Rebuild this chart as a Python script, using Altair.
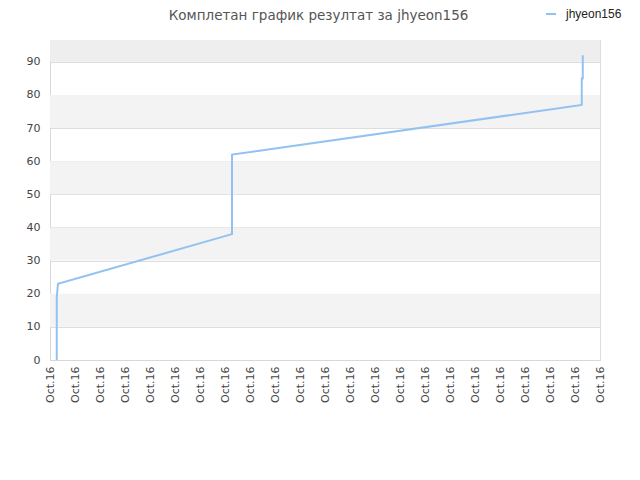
import altair as alt
import pandas as pd

# Data (x in tick-index units; 23 ticks all labelled "Oct.16")
x_vals = [0.27, 0.27, 0.32, 7.28, 7.28, 21.27, 21.27, 21.31, 21.31]
y_vals = [0, 19, 23, 38, 62, 77, 85, 85, 92]
series = "jhyeon156"
tick_positions = list(range(23))
tick_label = "Oct.16"
y_ticks = [0, 10, 20, 30, 40, 50, 60, 70, 80, 90]
band_lo = [10, 30, 50, 70, 90]
band_hi = [20, 40, 60, 80, 96.6]
band_col = ["#f3f3f3", "#f3f3f3", "#f3f3f3", "#f3f3f3", "#eeeeee"]
title_text = "Комплетан график резултат за jhyeon156"

line_df = pd.DataFrame({"x": x_vals, "y": y_vals, "s": [series] * len(x_vals)})
band_df = pd.DataFrame({"lo": band_lo, "hi": band_hi, "c": band_col})

W, H = 550, 320
xscale = alt.Scale(domain=[0, 22], nice=False, zero=False)
yscale = alt.Scale(domain=[0, 96.6], nice=False, zero=True)

yaxis = alt.Axis(values=y_ticks, ticks=False, grid=True, gridColor="#dddddd",
                 title=None, labelFont="DejaVu Sans", labelFontSize=11,
                 labelColor="#444", labelPadding=10, domainColor="#d8d8d8")
xaxis = alt.Axis(values=tick_positions, labelExpr="'" + tick_label + "'",
                 labelAngle=-90, ticks=False, grid=False, title=None,
                 labelFont="DejaVu Sans", labelFontSize=11, labelColor="#444",
                 labelPadding=6, domainColor="#d8d8d8", labelOverlap=False)

bands = alt.Chart(band_df).mark_rect().encode(
    x=alt.value(0), x2=alt.value(W),
    y=alt.Y("lo:Q", scale=yscale, axis=yaxis),
    y2="hi:Q",
    fill=alt.Fill("c:N", scale=None, legend=None),
)

line = alt.Chart(line_df).mark_line(strokeWidth=2, clip=False).encode(
    x=alt.X("x:Q", scale=xscale, axis=xaxis),
    y=alt.Y("y:Q", scale=yscale, axis=yaxis),
    color=alt.Color("s:N", scale=alt.Scale(range=["#92c2f2"]),
                    legend=alt.Legend(orient="none", legendX=495, legendY=-32, title=None,
                                      symbolType="stroke", symbolSize=100,
                                      symbolStrokeWidth=2, labelOffset=9,
                                      labelFont="Liberation Sans", labelFontSize=12,
                                      labelColor="#222")),
)

title = alt.Chart(pd.DataFrame({"t": [title_text]})).mark_text(
    font="DejaVu Sans", fontSize=13.5, color="#555555", baseline="middle", align="center"
).encode(x=alt.value(268.5), y=alt.value(-24), text="t:N")

chart = alt.layer(bands, line, title).resolve_scale(color="independent").properties(
    width=W, height=H,
    autosize=alt.AutoSizeParams(type="none"),
    padding={"left": 42, "top": 32, "right": 32, "bottom": 112},
).configure_view(stroke="#dddddd").configure(background="white")

chart.save("out.html", embed_options={"renderer": "svg", "actions": False})
